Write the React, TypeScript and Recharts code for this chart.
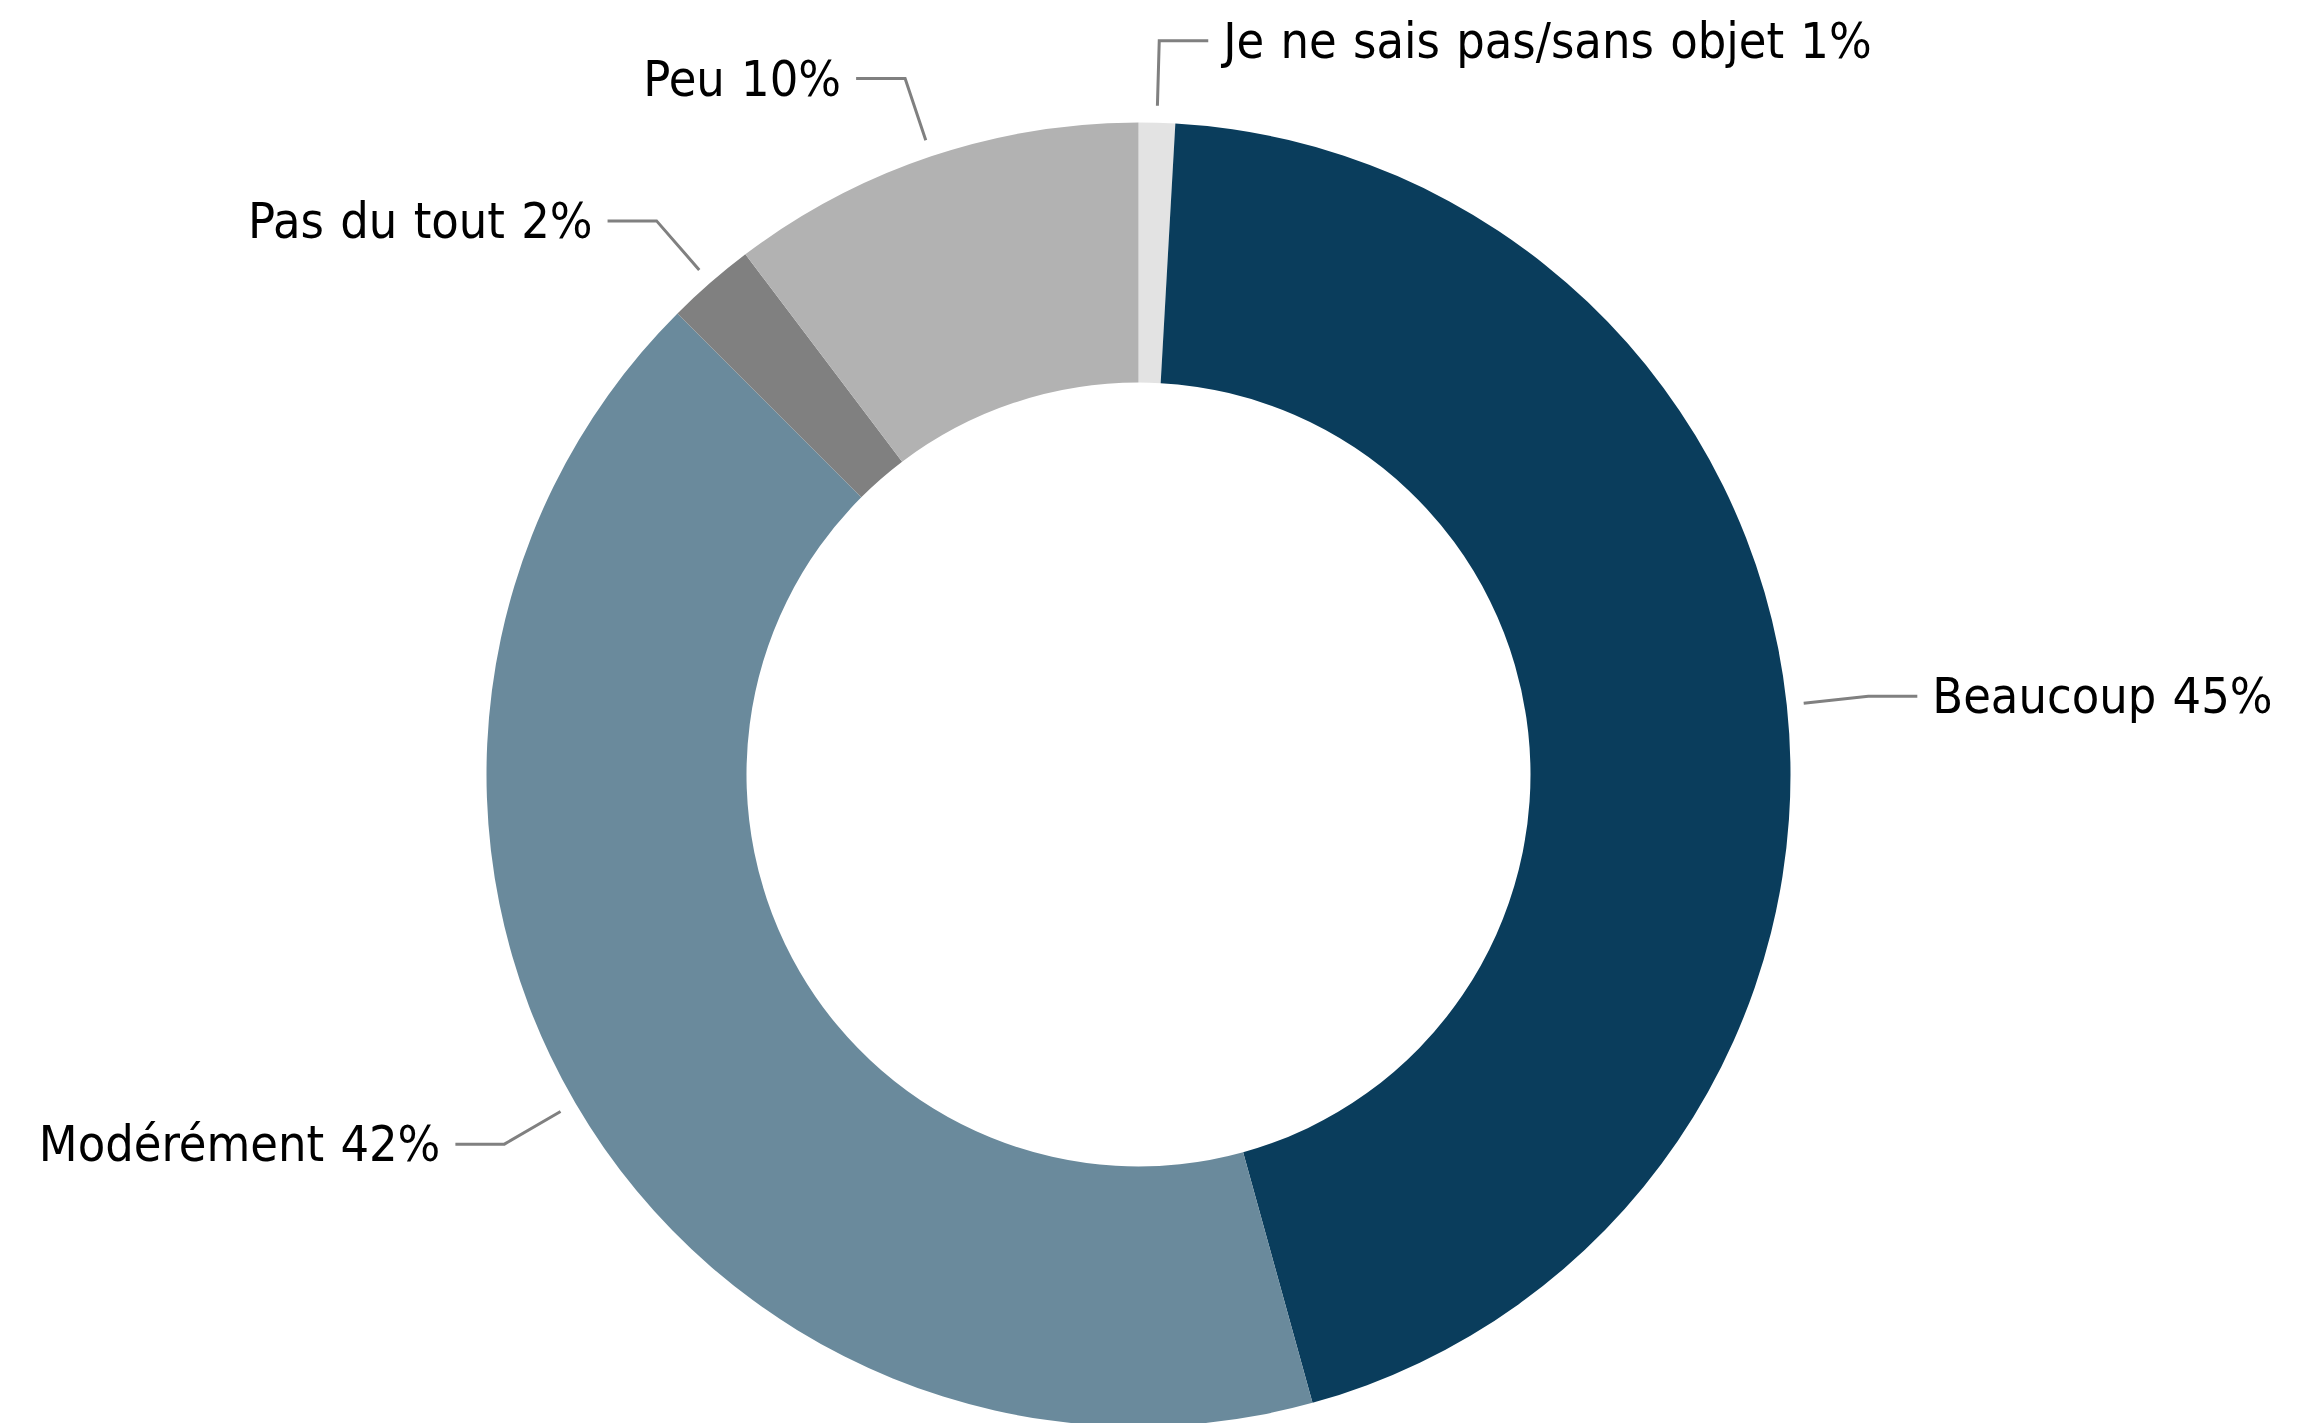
import { Cell, Pie, PieChart } from "recharts";

const categories = [
  "Je ne sais pas/sans objet",
  "Beaucoup",
  "Modérément",
  "Pas du tout",
  "Peu",
];
const shares = [0.9, 44.8, 41.8, 2.2, 10.3];
const colors = ["#e3e3e3", "#0a3d5c", "#6a8a9c", "#808080", "#b2b2b2"];

const data = categories.map((name, i) => ({ name, value: shares[i] }));

const RAD = Math.PI / 180;

function renderLabel(props: any) {
  const { cx, cy, midAngle, outerRadius, name, value } = props;
  const cos = Math.cos(-midAngle * RAD);
  const sin = Math.sin(-midAngle * RAD);
  const r0 = outerRadius + 17;
  const r1 = outerRadius + 82;
  const x0 = cx + r0 * cos;
  const y0 = cy + r0 * sin;
  const x1 = cx + r1 * cos;
  const y1 = cy + r1 * sin;
  const right = cos >= 0;
  const x2 = x1 + (right ? 49 : -49);
  const tx = x2 + (right ? 15 : -15);
  return (
    <g>
      <polyline
        points={`${x0},${y0} ${x1},${y1} ${x2},${y1}`}
        fill="none"
        stroke="#808080"
        strokeWidth={3}
      />
      <text
        x={tx}
        y={y1}
        textAnchor={right ? "start" : "end"}
        dominantBaseline="central"
        fill="#000"
        fontSize={50}
        wordSpacing={2}
        fontFamily="'DejaVu Sans Condensed', 'DejaVu Sans', sans-serif"
      >
        {`${name} ${Math.round(value)}%`}
      </text>
    </g>
  );
}

export default function App() {
  return (
    <div style={{ position: "absolute", left: 0, top: 0, background: "#fff" }}>
      <PieChart width={2320} height={1423} margin={{ top: 0, right: 0, bottom: 0, left: 0 }}>
        <Pie
          data={data}
          dataKey="value"
          nameKey="name"
          cx={1138.5}
          cy={774.5}
          innerRadius={392}
          outerRadius={652}
          startAngle={90}
          endAngle={-270}
          stroke="none"
          label={renderLabel}
          labelLine={false}
          isAnimationActive={false}
        >
          {data.map((_, i) => (
            <Cell key={i} fill={colors[i]} />
          ))}
        </Pie>
      </PieChart>
    </div>
  );
}
